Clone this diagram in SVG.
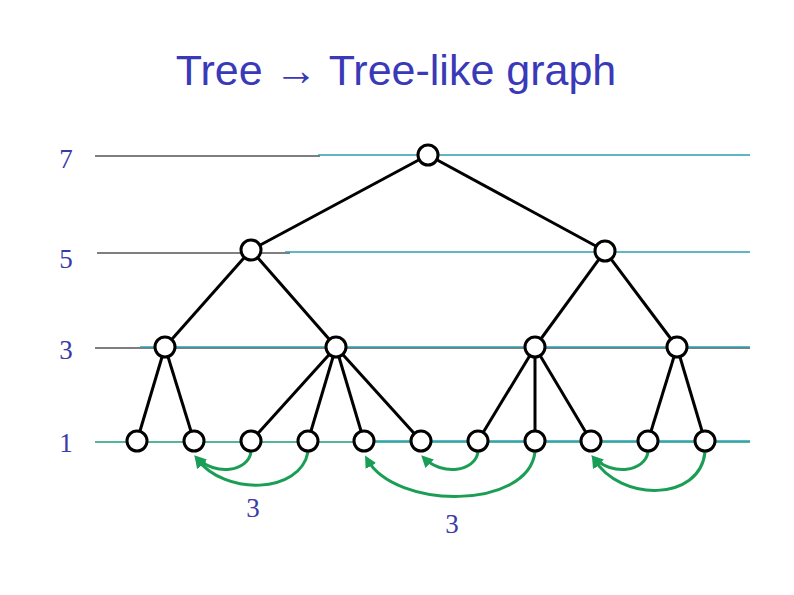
<svg xmlns="http://www.w3.org/2000/svg" width="794" height="595" viewBox="0 0 794 595">
<style>
.lvl{fill:#3a3aa8;font-family:"Liberation Serif","DejaVu Serif",serif;font-size:27px}
.edge{stroke:#000;stroke-width:3;fill:none}
.node{fill:#fff;stroke:#000;stroke-width:3}
.arc{stroke:#1a9e55;stroke-width:3;fill:none;marker-end:url(#ah)}
.blk{stroke:#000;stroke-width:1.2}
.tl{stroke:#2a9fb0;stroke-width:1.5}
</style>
<defs>
<marker id="ah" markerWidth="12" markerHeight="12" refX="8" refY="6" orient="auto" markerUnits="userSpaceOnUse" viewBox="0 0 12 12">
<path d="M0,0 L12,6 L0,12 z" fill="#1a9e55"/>
</marker>
</defs>
<rect width="794" height="595" fill="#fff"/>
<text x="396" y="85" text-anchor="middle" font-family="Liberation Sans, Arial, sans-serif" font-size="43" fill="#3a3ab8">Tree → Tree-like graph</text>
<g id="levels">
<line class="blk" x1="95" y1="156" x2="320" y2="156"/>
<line class="tl" x1="318" y1="155" x2="750" y2="155"/>
<line class="blk" x1="97" y1="253" x2="290" y2="253"/>
<line class="tl" x1="285" y1="252" x2="750" y2="252"/>
<line class="blk" x1="95" y1="348" x2="750" y2="348"/>
<line class="tl" x1="140" y1="347" x2="750" y2="347"/>
<line x1="95" y1="442" x2="750" y2="442" stroke="#1a9e7a" stroke-width="1.5"/>
<line class="tl" x1="360" y1="441" x2="750" y2="441"/>
<text class="lvl" x="66" y="168" text-anchor="middle">7</text>
<text class="lvl" x="66" y="268" text-anchor="middle">5</text>
<text class="lvl" x="66" y="359" text-anchor="middle">3</text>
<text class="lvl" x="66" y="452" text-anchor="middle">1</text>
</g>
<g id="connectors">
<line class="edge" x1="428" y1="155" x2="251" y2="250"/>
<line class="edge" x1="428" y1="155" x2="605" y2="251"/>
<line class="edge" x1="251" y1="250" x2="165" y2="347"/>
<line class="edge" x1="251" y1="250" x2="336" y2="347"/>
<line class="edge" x1="605" y1="251" x2="535" y2="347"/>
<line class="edge" x1="605" y1="251" x2="677" y2="347"/>
<line class="edge" x1="165" y1="347" x2="137" y2="441"/>
<line class="edge" x1="165" y1="347" x2="194" y2="441"/>
<line class="edge" x1="336" y1="347" x2="251" y2="441"/>
<line class="edge" x1="336" y1="347" x2="308" y2="441"/>
<line class="edge" x1="336" y1="347" x2="364" y2="441"/>
<line class="edge" x1="336" y1="347" x2="421" y2="441"/>
<line class="edge" x1="535" y1="347" x2="478" y2="441"/>
<line class="edge" x1="535" y1="347" x2="535" y2="441"/>
<line class="edge" x1="535" y1="347" x2="591" y2="441"/>
<line class="edge" x1="677" y1="347" x2="648" y2="441"/>
<line class="edge" x1="677" y1="347" x2="705" y2="441"/>
<path class="arc" d="M251,452 C248,472 215,476 197,458"/>
<path class="arc" d="M308,452 C300,494 225,496 197,459"/>
<path class="arc" d="M478,452 C475,472 442,476 424,458"/>
<path class="arc" d="M535,452 C528,510 395,510 367,459"/>
<path class="arc" d="M648,452 C645,472 612,476 594,458"/>
<path class="arc" d="M705,452 C700,502 620,502 594,459"/>
</g>
<g id="n7"><circle class="node" cx="428" cy="155" r="10"/></g>
<g id="n5a"><circle class="node" cx="251" cy="250" r="10"/></g>
<g id="n5b"><circle class="node" cx="605" cy="251" r="10"/></g>
<g id="n3a"><circle class="node" cx="165" cy="347" r="10"/></g>
<g id="n3b"><circle class="node" cx="336" cy="347" r="10"/></g>
<g id="n3c"><circle class="node" cx="535" cy="347" r="10"/></g>
<g id="n3d"><circle class="node" cx="677" cy="347" r="10"/></g>
<g id="n1a"><circle class="node" cx="137" cy="441" r="10"/></g>
<g id="n1b"><circle class="node" cx="194" cy="441" r="10"/></g>
<g id="n1c"><circle class="node" cx="251" cy="441" r="10"/></g>
<g id="n1d"><circle class="node" cx="308" cy="441" r="10"/></g>
<g id="n1e"><circle class="node" cx="364" cy="441" r="10"/></g>
<g id="n1f"><circle class="node" cx="421" cy="441" r="10"/></g>
<g id="n1g"><circle class="node" cx="478" cy="441" r="10"/></g>
<g id="n1h"><circle class="node" cx="535" cy="441" r="10"/></g>
<g id="n1i"><circle class="node" cx="591" cy="441" r="10"/></g>
<g id="n1j"><circle class="node" cx="648" cy="441" r="10"/></g>
<g id="n1k"><circle class="node" cx="705" cy="441" r="10"/></g>
<g id="labels">
<text class="lvl" x="253" y="517" text-anchor="middle">3</text>
<text class="lvl" x="452" y="533" text-anchor="middle">3</text>
</g>
</svg>
